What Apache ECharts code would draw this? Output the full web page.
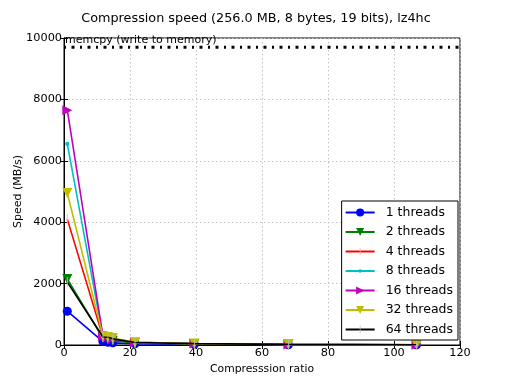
<!DOCTYPE html>
<html><head><meta charset="utf-8">
<script src="https://cdn.jsdelivr.net/npm/echarts@6/dist/echarts.min.js"></script>
<style>html,body{margin:0;padding:0;background:#fff}#c{width:512px;height:384px}</style>
</head><body><div id="c"></div>
<script>
const ratios = [1.0, 11.8, 13.3, 14.8, 21.5, 39.5, 68.0, 106.8];
const seriesNames = ['1 threads','2 threads','4 threads','8 threads','16 threads','32 threads','64 threads'];
const t1  = [1100, 110, 90, 70, 40, 20, 8, 4];
const t2  = [2150, 220, 180, 140, 70, 35, 15, 8];
const t4  = [4100, 260, 220, 180, 80, 40, 18, 9];
const t8  = [6550, 280, 250, 200, 85, 45, 20, 10];
const t16 = [7650, 290, 260, 210, 90, 48, 20, 10];
const t32 = [4950, 290, 260, 230, 80, 45, 20, 10];
const t64 = [2050, 260, 250, 200, 80, 45, 20, 10];
const memcpySpeed = 9700;
const memcpyX = [0, 120];
const xTicks = [0, 20, 40, 60, 80, 100, 120];
const yTicks = [0, 2000, 4000, 6000, 8000, 10000];

const values = [t1, t2, t4, t8, t16, t32, t64];
const colors = ['#0000ff','#007f00','#ff0000','#00bfbf','#bf00bf','#bfbf00','#000000'];
// square-bounded glyphs (tiny corner specks keep the aspect when the legend stretches them)
const vbar = 'path://M-1,-1h0.01v0.01h-0.01zM1,1h-0.01v-0.01h0.01zM-0.09,-1h0.18v2h-0.18z';
const dot = 'path://M-1,-1h0.01v0.01h-0.01zM1,1h-0.01v-0.01h0.01zM0.42,0A0.42,0.42 0 1 1 -0.42,0A0.42,0.42 0 1 1 0.42,0z';
const symbols = ['circle','triangle', vbar, dot,'triangle','triangle', vbar];
const symSizes = [9, 10, 10, 10, 10, 10, 10];
const rotations = [0, 180, 0, 0, -90, 180, 0];
const symColors = ['#0000ff','#007f00','#ffaaaa','#00bfbf','#bf00bf','#bfbf00','#bbbbbb'];

const font = 'DejaVu Sans';
const series = seriesNames.map((n,i)=>({
  name: n, type: 'line',
  data: ratios.map((x,k)=>[x, values[i][k]]),
  symbol: symbols[i], symbolSize: symSizes[i], symbolRotate: rotations[i],
  showAllSymbol: true,
  lineStyle: {color: colors[i], width: 1.6},
  itemStyle: {color: symColors[i], borderWidth: 0},
  z: 3 + i, animation: false
}));
series.unshift({
  name: 'memcpy', type: 'line',
  data: memcpyX.map(x=>[x, memcpySpeed]),
  symbol: 'none',
  lineStyle: {color: '#000', width: 3, type: [2, 5.5, 3, 5.5]},
  animation: false, silent: true, z: 2
});

const chart = echarts.init(document.getElementById('c'), null, {renderer:'canvas'});
chart.setOption({
  animation: false,
  backgroundColor: '#fff',
  textStyle: {fontFamily: font},
  title: [
    {text: 'Compression speed (256.0 MB, 8 bytes, 19 bits), lz4hc', left: 'center', top: 7,
     textStyle: {fontFamily: font, fontSize: 12.8, fontWeight: 'normal', color: '#000'}},
    {text: 'memcpy (write to memory)', left: 65, top: 35, padding: 0,
     textStyle: {fontFamily: font, fontSize: 11, fontWeight: 'normal', color: '#000'}}
  ],
  grid: {left: 64, right: 52, top: 38, bottom: 39, show: true, borderColor: '#000', borderWidth: 1,
         backgroundColor: 'transparent', containLabel: false, outerBoundsMode: 'none'},
  legend: {
    data: seriesNames,
    orient: 'vertical', right: 54, top: 201,
    backgroundColor: '#fff', borderColor: '#000', borderWidth: 1,
    padding: [5, 5, 4, 3], itemGap: 6.5, itemWidth: 29, itemHeight: 10,
    textStyle: {fontFamily: font, fontSize: 12.5, color: '#000', padding: [0,0,0,6]},
    z: 20
  },
  xAxis: [{
    type: 'value', min: 0, max: 120, interval: 20,
    name: 'Compresssion ratio', nameLocation: 'middle', nameGap: 19, nameMoveOverlap: false,
    nameTextStyle: {fontFamily: font, fontSize: 10.8, color: '#000'},
    axisLine: {show: true, lineStyle: {color: '#000'}},
    axisTick: {show: true, inside: true, length: 4, lineStyle: {color: '#000'}},
    axisLabel: {fontFamily: font, fontSize: 11.3, color: '#000', margin: 3,
      formatter: v => xTicks.includes(v) ? String(v) : ''},
    splitLine: {show: true, lineStyle: {color: '#c4c4c4', type: [1.5, 2.5], width: 1}}
  },{
    type: 'value', min: 0, max: 120, interval: 20, position: 'top',
    axisLine: {show: true, lineStyle: {color: '#000'}},
    axisTick: {show: true, inside: true, length: 4, lineStyle: {color: '#000'}},
    axisLabel: {show: false}, splitLine: {show: false}
  }],
  yAxis: [{
    type: 'value', min: 0, max: 10000, interval: 2000,
    name: 'Speed (MB/s)', nameLocation: 'middle', nameGap: 40, nameMoveOverlap: false,
    nameTextStyle: {fontFamily: font, fontSize: 11, color: '#000'},
    axisLine: {show: true, lineStyle: {color: '#000'}},
    axisTick: {show: true, inside: true, length: 4, lineStyle: {color: '#000'}},
    axisLabel: {fontFamily: font, fontSize: 11.3, color: '#000', margin: 2,
      formatter: v => yTicks.includes(v) ? String(v) : ''},
    splitLine: {show: true, lineStyle: {color: '#c4c4c4', type: [1.5, 2.5], width: 1}}
  },{
    type: 'value', min: 0, max: 10000, interval: 2000, position: 'right',
    axisLine: {show: true, lineStyle: {color: '#000'}},
    axisTick: {show: true, inside: true, length: 4, lineStyle: {color: '#000'}},
    axisLabel: {show: false}, splitLine: {show: false}
  }],
  series: series
});
</script></body></html>
